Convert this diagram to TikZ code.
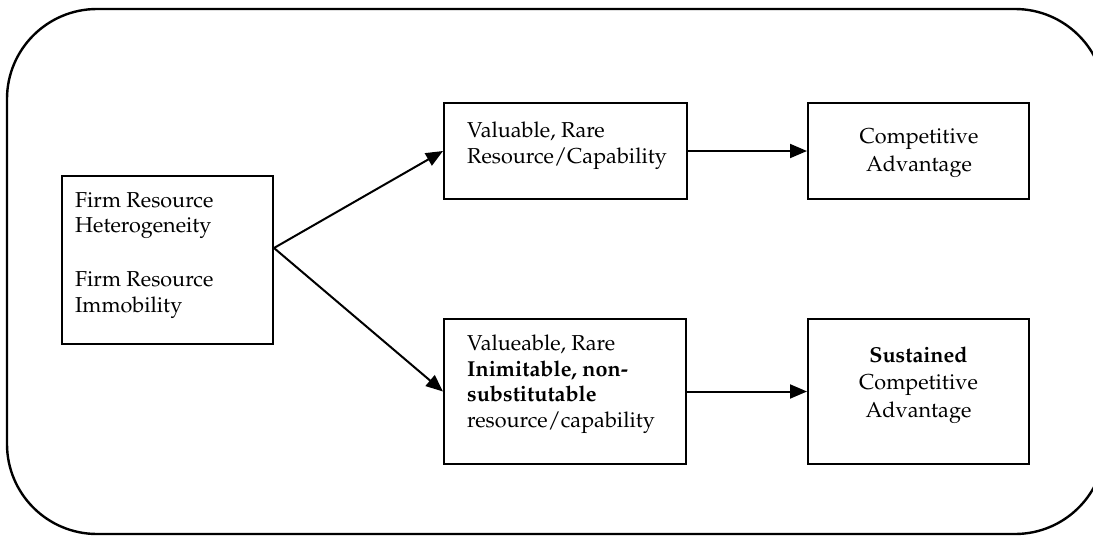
\documentclass[tikz,border=0pt]{standalone}
\usepackage[T1]{fontenc}
\usepackage{mathpazo}
\usetikzlibrary{arrows.meta}
\begin{document}
\begin{tikzpicture}[x=1pt,y=-1pt,
  box/.style={draw, line width=2pt, inner sep=0pt},
  txt/.style={inner sep=0pt, font=\fontsize{21.6}{25.5}\selectfont, align=left, anchor=base west},
  ctxt/.style={inner sep=0pt, font=\fontsize{21.6}{27.2}\selectfont, align=center, anchor=base},
  arr/.style={line width=2pt, -{Triangle[length=17pt,width=14pt]}}]
\useasboundingbox (0,0) rectangle (1093,536);
\draw[line width=2.4pt, rounded corners=90pt] (7,9) rectangle (1105,534);

\node[box, minimum width=211pt, minimum height=168pt] (A) at (167.5,260) {};
\node[box, minimum width=243pt, minimum height=96pt] (B) at (565.5,151) {};
\node[box, minimum width=221pt, minimum height=96pt] (C) at (918.5,151) {};
\node[box, minimum width=242pt, minimum height=145pt] (D) at (565,391.5) {};
\node[box, minimum width=221pt, minimum height=145pt] (E) at (918.5,391.5) {};

\node[txt] (At) at (75,312) {Firm Resource\\Heterogeneity\\[28.5pt]Firm Resource\\Immobility};
\node[txt] (Bt) at (467,163) {Valuable, Rare\\Resource/Capability};
\node[ctxt] (Ct) at (919,171) {Competitive\\Advantage};
\node[txt] (Dt) at (467,427) {Valueable, Rare\\\textbf{Inimitable, non-}\\\textbf{substitutable}\\resource/capability};
\node[ctxt] (Et) at (918.5,417) {\textbf{Sustained}\\Competitive\\Advantage};

\coordinate (fork) at (A.east |- 0,248);
\draw[arr] (fork) -- (B.west);
\draw[arr] (fork) -- (D.west);
\draw[arr] (B.east) -- (C.west);
\draw[arr] (D.east) -- (E.west);
\end{tikzpicture}
\end{document}
